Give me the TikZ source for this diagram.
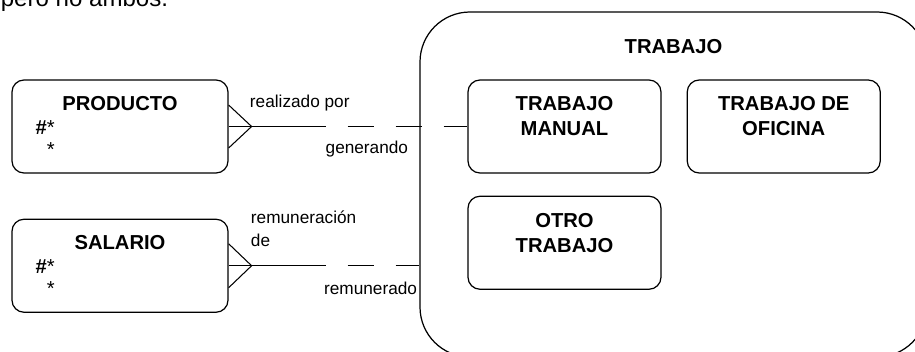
\documentclass[tikz,border=0pt]{standalone}
\usepackage{fontspec}
\setmainfont{Liberation Sans}
\usetikzlibrary{positioning}

\begin{document}
\begin{tikzpicture}[
  x=0.2mm, y=-0.2mm,
  ent/.style={draw, line width=0.7pt, rounded corners=2.4mm, minimum width=43.2mm, minimum height=18.6mm, inner sep=0pt},
  subent/.style={ent, minimum width=38.6mm},
  supent/.style={draw, line width=0.7pt, rounded corners=10mm, minimum width=101.4mm, minimum height=69mm, inner sep=0pt},
  ttl/.style={font=\fontsize{11.5}{14.2}\selectfont\bfseries, align=center, inner sep=0pt},
  attr/.style={font=\fontsize{11.5}{12.5}\selectfont, align=left, inner sep=0pt},
  lbl/.style={font=\fontsize{9.8}{13}\selectfont, inner sep=0pt},
  rel/.style={line width=0.6pt},
  reldash/.style={rel, dash pattern=on 5.2mm off 4.4mm, dash phase=5.2mm}
]
\useasboundingbox (0,0) rectangle (915,351);
\node[font=\fontsize{13.7}{16}\selectfont, anchor=base west, inner sep=0pt] (nota) at (0.5,6) {pero no ambos.};

% entities
\node[ent] (prod) at (120,126.5) {};
\node[ent, below=9mm of prod] (sal) {};
\node[supent] (trab) at (673.5,184.5) {};
\node[subent] (man) at (564.5,126.5) {};
\node[subent, right=5mm of man] (ofi) {};
\node[subent, below=4.4mm of man] (otro) {};

% entity texts
\node[ttl, below=3.3mm of prod.north] (prodT) {PRODUCTO};
\node[attr, anchor=north west] (prodA) at ([xshift=4.8mm,yshift=-8.2mm]prod.north west) {\textbf{\#}*\\\phantom{\textbf{\#}}*};
\node[ttl, below=3.3mm of sal.north] (salT) {SALARIO};
\node[attr, anchor=north west] (salA) at ([xshift=4.8mm,yshift=-8.1mm]sal.north west) {\textbf{\#}*\\\phantom{\textbf{\#}}*};
\node[ttl, below=5.6mm of trab.north] (trabT) {TRABAJO};
\node[ttl, below=3.4mm of man.north] (manT) {TRABAJO\\MANUAL};
\node[ttl, below=3.4mm of ofi.north] (ofiT) {TRABAJO DE\\OFICINA};
\node[ttl, below=3.4mm of otro.north] (otroT) {OTRO\\TRABAJO};

% relationship producto - trabajo manual
\coordinate[right=4.6mm of prod.east] (pTip);
\coordinate[right=14.8mm of pTip] (pMid);
\coordinate (pEnd) at (pTip -| trab.west);
\draw[rel] ([yshift=4.3mm]prod.east) -- (pTip) -- ([yshift=-4.3mm]prod.east);
\draw[rel] (prod.east) -- (pTip) -- (pMid);
\draw[reldash] (pMid) -- (man.west);
\node[lbl, anchor=base west] (realiz) at ([xshift=-0.4mm,yshift=3.8mm]pTip) {realizado por};
\node[lbl, anchor=base east] (gener) at ([xshift=-2.2mm,yshift=-5.4mm]pEnd) {generando};

% relationship salario - trabajo
\coordinate[right=4.6mm of sal.east] (sTip);
\coordinate[right=14.8mm of sTip] (sMid);
\coordinate (sEnd) at (sTip -| trab.west);
\draw[rel] ([yshift=4.4mm]sal.east) -- (sTip) -- ([yshift=-4.4mm]sal.east);
\draw[rel] (sal.east) -- (sTip) -- (sMid);
\draw[reldash] (sMid) -- (sEnd);
\node[lbl, anchor=south west, align=left] (remde) at ([xshift=-0.2mm,yshift=3.8mm]sTip) {remuneración\\de};
\node[lbl, anchor=base east] (remun) at ([xshift=-0.4mm,yshift=-5.8mm]sEnd) {remunerado};
\end{tikzpicture}
\end{document}
